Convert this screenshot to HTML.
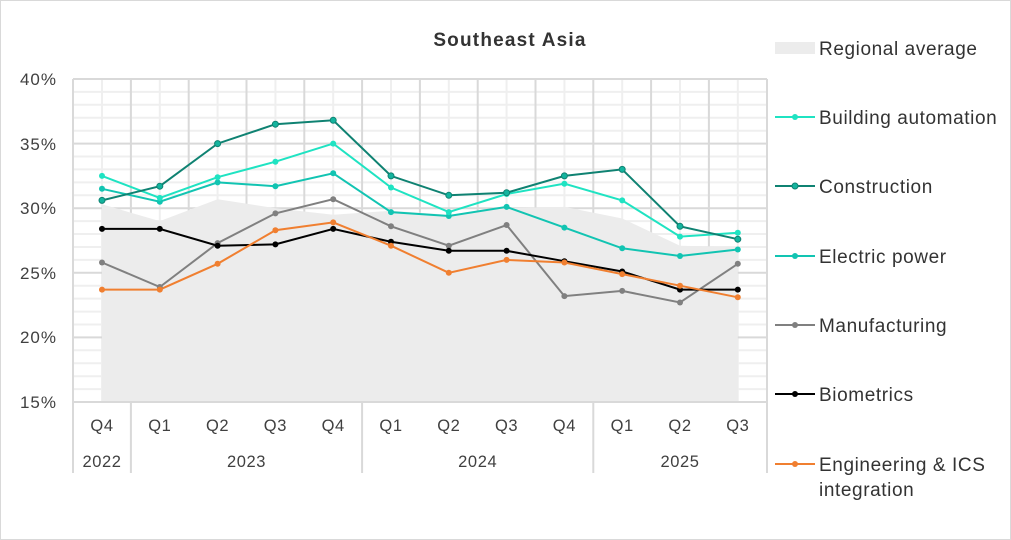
<!DOCTYPE html>
<html><head><meta charset="utf-8"><style>
html,body{margin:0;padding:0;background:#fff}
svg{display:block;font-family:"Liberation Sans",sans-serif}
</style></head><body>
<svg width="1011" height="540" viewBox="0 0 1011 540">
<rect x="0.5" y="0.5" width="1010" height="539" fill="#fff" stroke="#d9d9d9"/>
<text x="510" y="46" text-anchor="middle" font-size="19" font-weight="bold" fill="#333" letter-spacing="1.2">Southeast Asia</text>
<g stroke="#efefef" stroke-width="2">
<line x1="73" x2="767" y1="91.9" y2="91.9"/><line x1="73" x2="767" y1="104.8" y2="104.8"/><line x1="73" x2="767" y1="117.8" y2="117.8"/><line x1="73" x2="767" y1="130.7" y2="130.7"/>
<line x1="73" x2="767" y1="156.5" y2="156.5"/><line x1="73" x2="767" y1="169.4" y2="169.4"/><line x1="73" x2="767" y1="182.4" y2="182.4"/><line x1="73" x2="767" y1="195.3" y2="195.3"/>
<line x1="73" x2="767" y1="221.1" y2="221.1"/><line x1="73" x2="767" y1="234.0" y2="234.0"/><line x1="73" x2="767" y1="247.0" y2="247.0"/><line x1="73" x2="767" y1="259.9" y2="259.9"/>
<line x1="73" x2="767" y1="285.7" y2="285.7"/><line x1="73" x2="767" y1="298.6" y2="298.6"/><line x1="73" x2="767" y1="311.6" y2="311.6"/><line x1="73" x2="767" y1="324.5" y2="324.5"/>
<line x1="73" x2="767" y1="350.3" y2="350.3"/><line x1="73" x2="767" y1="363.2" y2="363.2"/><line x1="73" x2="767" y1="376.2" y2="376.2"/><line x1="73" x2="767" y1="389.1" y2="389.1"/>
<line y1="79" y2="402" x1="102" x2="102"/><line y1="79" y2="402" x1="159.8" x2="159.8"/><line y1="79" y2="402" x1="217.6" x2="217.6"/><line y1="79" y2="402" x1="275.4" x2="275.4"/><line y1="79" y2="402" x1="333.2" x2="333.2"/><line y1="79" y2="402" x1="391" x2="391"/><line y1="79" y2="402" x1="448.8" x2="448.8"/><line y1="79" y2="402" x1="506.6" x2="506.6"/><line y1="79" y2="402" x1="564.4" x2="564.4"/><line y1="79" y2="402" x1="622.2" x2="622.2"/><line y1="79" y2="402" x1="680" x2="680"/><line y1="79" y2="402" x1="737.8" x2="737.8"/>
</g>
<g stroke="#d9d9d9" stroke-width="2">
<line x1="73" x2="767" y1="79" y2="79"/><line x1="73" x2="767" y1="143.6" y2="143.6"/><line x1="73" x2="767" y1="208.2" y2="208.2"/><line x1="73" x2="767" y1="272.8" y2="272.8"/><line x1="73" x2="767" y1="337.4" y2="337.4"/>
<line y1="79" y2="402" x1="73" x2="73"/><line y1="79" y2="402" x1="130.9" x2="130.9"/><line y1="79" y2="402" x1="188.7" x2="188.7"/><line y1="79" y2="402" x1="246.5" x2="246.5"/><line y1="79" y2="402" x1="304.3" x2="304.3"/><line y1="79" y2="402" x1="362.1" x2="362.1"/><line y1="79" y2="402" x1="419.9" x2="419.9"/><line y1="79" y2="402" x1="477.7" x2="477.7"/><line y1="79" y2="402" x1="535.5" x2="535.5"/><line y1="79" y2="402" x1="593.3" x2="593.3"/><line y1="79" y2="402" x1="651.1" x2="651.1"/><line y1="79" y2="402" x1="708.9" x2="708.9"/><line y1="79" y2="402" x1="767" x2="767"/>
</g>
<polygon fill="#ececec" points="102,402 102,204.3 159.8,221.1 217.6,199.2 275.4,208.2 333.2,214.7 391,210.8 448.8,214.7 506.6,208.2 564.4,206.9 622.2,218.5 680,245.7 737.8,247 737.8,402"/>
<g stroke="#d9d9d9" stroke-width="2">
<line x1="73" x2="767" y1="402" y2="402"/>
<line x1="73" x2="73" y1="402" y2="473"/><line x1="130.9" x2="130.9" y1="402" y2="473"/><line x1="362.1" x2="362.1" y1="402" y2="473"/><line x1="593.3" x2="593.3" y1="402" y2="473"/><line x1="767" x2="767" y1="402" y2="473"/>
</g>
<g font-size="17" fill="#404040" text-anchor="end" letter-spacing="1">
<text x="57" y="85">40%</text><text x="57" y="150">35%</text><text x="57" y="214">30%</text><text x="57" y="279">25%</text><text x="57" y="343">20%</text><text x="57" y="408">15%</text>
</g>
<g font-size="16.5" fill="#404040" text-anchor="middle" letter-spacing="0.6">
<text x="102" y="431">Q4</text><text x="159.8" y="431">Q1</text><text x="217.6" y="431">Q2</text><text x="275.4" y="431">Q3</text><text x="333.2" y="431">Q4</text><text x="391" y="431">Q1</text><text x="448.8" y="431">Q2</text><text x="506.6" y="431">Q3</text><text x="564.4" y="431">Q4</text><text x="622.2" y="431">Q1</text><text x="680" y="431">Q2</text><text x="737.8" y="431">Q3</text>
<text x="102" y="467">2022</text><text x="246.5" y="467">2023</text><text x="477.7" y="467">2024</text><text x="680" y="467">2025</text>
</g>
<g fill="none" stroke-width="2">
<polyline stroke="#12c4b2" points="102,188.8 159.8,201.7 217.6,182.4 275.4,186.2 333.2,173.3 391,212.1 448.8,216 506.6,206.9 564.4,227.6 622.2,248.3 680,256 737.8,249.5"/>
<polyline stroke="#1fe3c2" points="102,175.9 159.8,197.9 217.6,177.2 275.4,161.7 333.2,143.6 391,187.5 448.8,212.1 506.6,194 564.4,183.7 622.2,200.4 680,236.6 737.8,232.7"/>
<polyline stroke="#0f8272" points="102,200.4 159.8,186.2 217.6,143.6 275.4,124.2 333.2,120.3 391,175.9 448.8,195.3 506.6,192.7 564.4,175.9 622.2,169.4 680,226.3 737.8,239.2"/>
<polyline stroke="#808080" points="102,262.5 159.8,287 217.6,243.1 275.4,213.4 333.2,199.2 391,226.3 448.8,245.7 506.6,225 564.4,296.1 622.2,290.9 680,302.5 737.8,263.8"/>
<polyline stroke="#000" points="102,228.9 159.8,228.9 217.6,245.7 275.4,244.4 333.2,228.9 391,241.8 448.8,250.8 506.6,250.8 564.4,261.2 622.2,271.5 680,289.6 737.8,289.6"/>
<polyline stroke="#f07f30" points="102,289.6 159.8,289.6 217.6,263.8 275.4,230.2 333.2,222.4 391,245.7 448.8,272.8 506.6,259.9 564.4,262.5 622.2,274.1 680,285.7 737.8,297.3"/>
</g>
<g>
<g fill="#12c4b2"><circle cx="102" cy="188.8" r="3"/><circle cx="159.8" cy="201.7" r="3"/><circle cx="217.6" cy="182.4" r="3"/><circle cx="275.4" cy="186.2" r="3"/><circle cx="333.2" cy="173.3" r="3"/><circle cx="391" cy="212.1" r="3"/><circle cx="448.8" cy="216" r="3"/><circle cx="506.6" cy="206.9" r="3"/><circle cx="564.4" cy="227.6" r="3"/><circle cx="622.2" cy="248.3" r="3"/><circle cx="680" cy="256" r="3"/><circle cx="737.8" cy="249.5" r="3"/></g>
<g fill="#1fe3c2"><circle cx="102" cy="175.9" r="3"/><circle cx="159.8" cy="197.9" r="3"/><circle cx="217.6" cy="177.2" r="3"/><circle cx="275.4" cy="161.7" r="3"/><circle cx="333.2" cy="143.6" r="3"/><circle cx="391" cy="187.5" r="3"/><circle cx="448.8" cy="212.1" r="3"/><circle cx="506.6" cy="194" r="3"/><circle cx="564.4" cy="183.7" r="3"/><circle cx="622.2" cy="200.4" r="3"/><circle cx="680" cy="236.6" r="3"/><circle cx="737.8" cy="232.7" r="3"/></g>
<g fill="#13b49e" stroke="#0f8272"><circle cx="102" cy="200.4" r="3"/><circle cx="159.8" cy="186.2" r="3"/><circle cx="217.6" cy="143.6" r="3"/><circle cx="275.4" cy="124.2" r="3"/><circle cx="333.2" cy="120.3" r="3"/><circle cx="391" cy="175.9" r="3"/><circle cx="448.8" cy="195.3" r="3"/><circle cx="506.6" cy="192.7" r="3"/><circle cx="564.4" cy="175.9" r="3"/><circle cx="622.2" cy="169.4" r="3"/><circle cx="680" cy="226.3" r="3"/><circle cx="737.8" cy="239.2" r="3"/></g>
<g fill="#808080"><circle cx="102" cy="262.5" r="3"/><circle cx="159.8" cy="287" r="3"/><circle cx="217.6" cy="243.1" r="3"/><circle cx="275.4" cy="213.4" r="3"/><circle cx="333.2" cy="199.2" r="3"/><circle cx="391" cy="226.3" r="3"/><circle cx="448.8" cy="245.7" r="3"/><circle cx="506.6" cy="225" r="3"/><circle cx="564.4" cy="296.1" r="3"/><circle cx="622.2" cy="290.9" r="3"/><circle cx="680" cy="302.5" r="3"/><circle cx="737.8" cy="263.8" r="3"/></g>
<g fill="#000"><circle cx="102" cy="228.9" r="3"/><circle cx="159.8" cy="228.9" r="3"/><circle cx="217.6" cy="245.7" r="3"/><circle cx="275.4" cy="244.4" r="3"/><circle cx="333.2" cy="228.9" r="3"/><circle cx="391" cy="241.8" r="3"/><circle cx="448.8" cy="250.8" r="3"/><circle cx="506.6" cy="250.8" r="3"/><circle cx="564.4" cy="261.2" r="3"/><circle cx="622.2" cy="271.5" r="3"/><circle cx="680" cy="289.6" r="3"/><circle cx="737.8" cy="289.6" r="3"/></g>
<g fill="#f07f30"><circle cx="102" cy="289.6" r="3"/><circle cx="159.8" cy="289.6" r="3"/><circle cx="217.6" cy="263.8" r="3"/><circle cx="275.4" cy="230.2" r="3"/><circle cx="333.2" cy="222.4" r="3"/><circle cx="391" cy="245.7" r="3"/><circle cx="448.8" cy="272.8" r="3"/><circle cx="506.6" cy="259.9" r="3"/><circle cx="564.4" cy="262.5" r="3"/><circle cx="622.2" cy="274.1" r="3"/><circle cx="680" cy="285.7" r="3"/><circle cx="737.8" cy="297.3" r="3"/></g>
</g>
<g font-size="19" fill="#333" letter-spacing="0.6">
<rect x="775" y="42" width="40" height="12" fill="#ececec"/><text x="819" y="55">Regional average</text>
<line x1="775" x2="815" y1="117" y2="117" stroke="#1fe3c2" stroke-width="2"/><circle cx="795" cy="117" r="3" fill="#1fe3c2"/><text x="819" y="124">Building automation</text>
<line x1="775" x2="815" y1="186" y2="186" stroke="#0f8272" stroke-width="2"/><circle cx="795" cy="186" r="3" fill="#13b49e" stroke="#0f8272"/><text x="819" y="193">Construction</text>
<line x1="775" x2="815" y1="256" y2="256" stroke="#12c4b2" stroke-width="2"/><circle cx="795" cy="256" r="3" fill="#12c4b2"/><text x="819" y="263">Electric power</text>
<line x1="775" x2="815" y1="325" y2="325" stroke="#808080" stroke-width="2"/><circle cx="795" cy="325" r="3" fill="#808080"/><text x="819" y="332">Manufacturing</text>
<line x1="775" x2="815" y1="394" y2="394" stroke="#000" stroke-width="2"/><circle cx="795" cy="394" r="3" fill="#000"/><text x="819" y="401">Biometrics</text>
<line x1="775" x2="815" y1="464" y2="464" stroke="#f07f30" stroke-width="2"/><circle cx="795" cy="464" r="3" fill="#f07f30"/><text x="819" y="471">Engineering &amp; ICS</text><text x="819" y="496">integration</text>
</g>
</svg>
</body></html>
